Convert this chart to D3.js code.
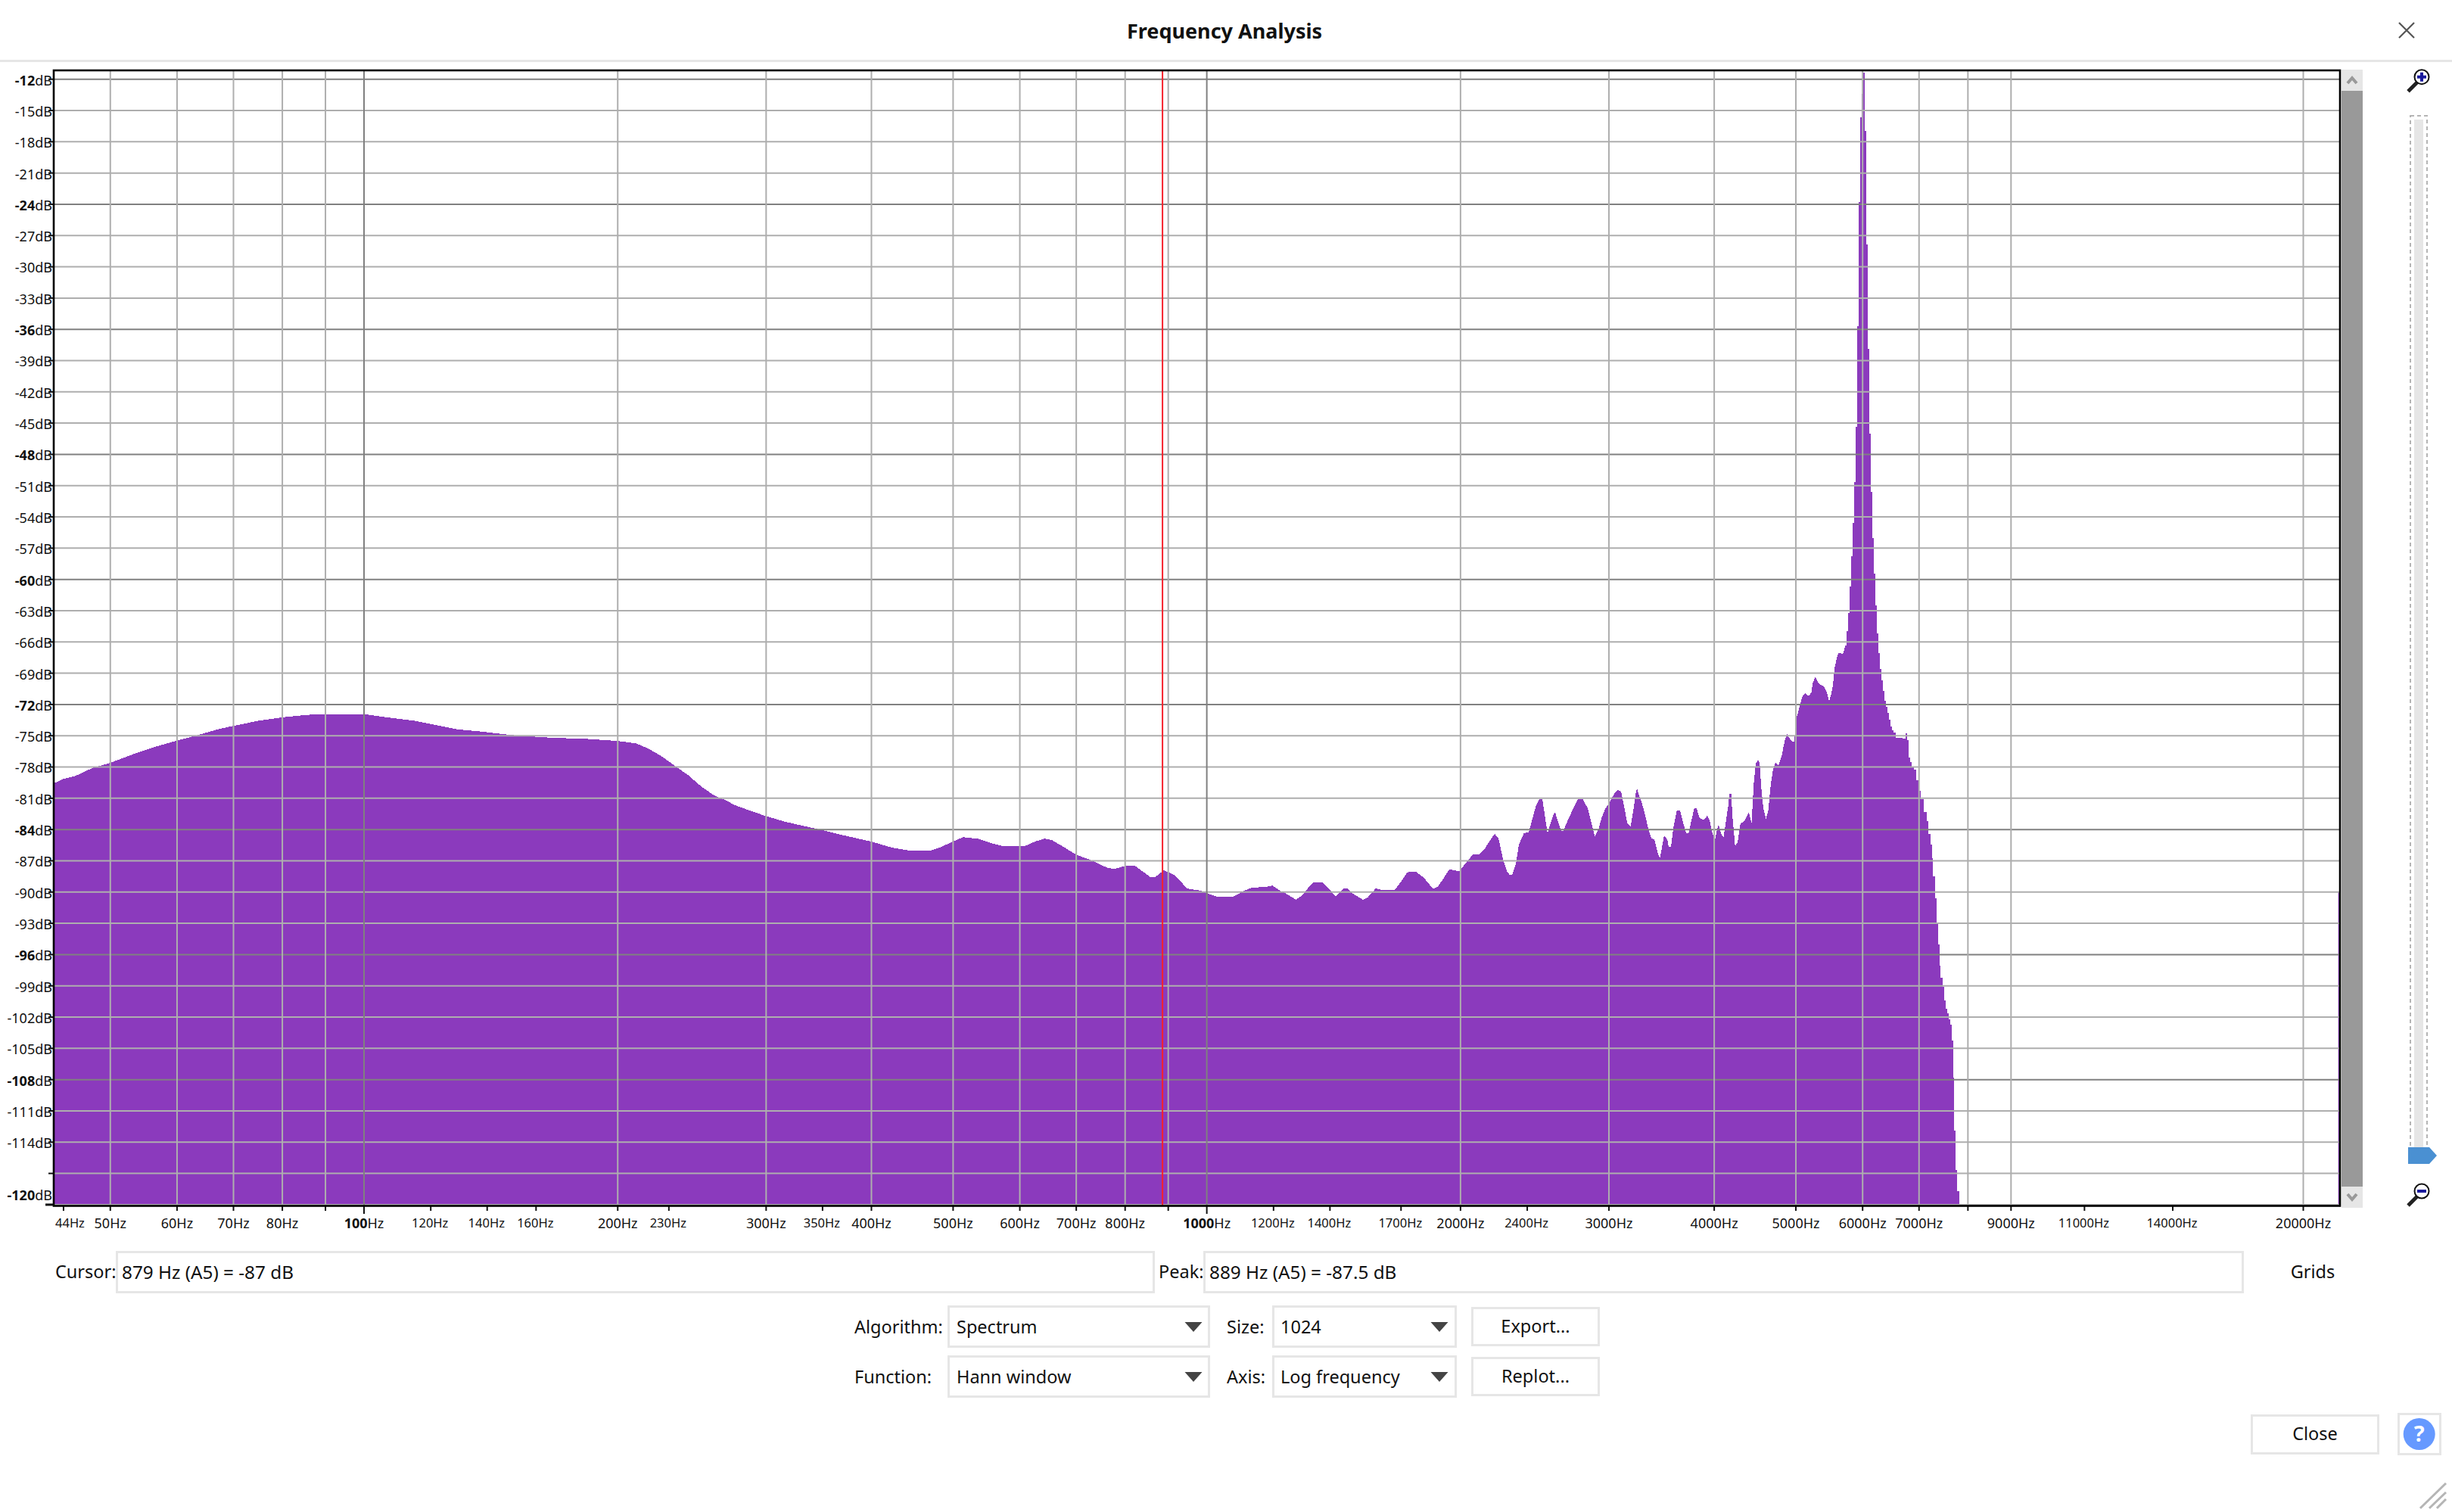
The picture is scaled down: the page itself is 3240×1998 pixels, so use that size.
<!DOCTYPE html>
<html>
<head>
<meta charset="utf-8">
<title>Frequency Analysis</title>
<script src="https://cdn.jsdelivr.net/npm/d3@7/dist/d3.min.js"></script>
<style>
  html, body { margin: 0; padding: 0; background: #fff; }
  svg { display: block; }
  text { font-family: "Noto Sans", sans-serif; fill: #111; }
</style>
</head>
<body>
<div id="chart"></div>
<script>
// Spectrum: frequency (Hz) and level (dB), same order
const spectrumHz = [
  42.5, 43.9, 45.5, 47.6, 50, 53.1, 56.3, 59.8, 63.4, 67.4,
  70, 74.9, 80, 85.4, 90, 100, 106.3, 114.9, 121.8, 129.2,
  137.2, 145.7, 152.8, 167, 184.6, 200, 210.5, 218, 225.8, 233.9,
  242.7, 251.5, 260.5, 269.3, 274.9, 286.5, 300, 317, 333.8, 351.6,
  370, 400, 423.5, 445.7, 469, 484, 500, 514, 536, 558.6,
  576, 607, 626, 642, 655, 672.5, 700, 730, 760, 776,
  800, 822, 856, 869.5, 889, 915.7, 948, 984, 1000, 1030,
  1074, 1108, 1131, 1171, 1196, 1221, 1243, 1276, 1299, 1327,
  1340, 1371, 1400, 1422, 1455, 1467, 1492, 1532, 1551, 1587,
  1614, 1671, 1701, 1728, 1738, 1769, 1808, 1856, 1880, 1904,
  1938, 1956, 1993, 2026, 2068, 2103, 2133, 2169, 2196, 2219,
  2247, 2270, 2287, 2303, 2327, 2346, 2378, 2410, 2440, 2460,
  2483, 2501, 2517, 2537, 2550, 2578, 2590, 2605, 2632, 2650,
  2672, 2723, 2757, 2791, 2831, 2861, 2887, 2918, 2943, 2970,
  3000, 3047, 3074, 3102, 3128, 3154, 3183, 3212, 3226, 3240,
  3253, 3280, 3311, 3340, 3370, 3398, 3426, 3448, 3473, 3488,
  3519, 3533, 3555, 3577, 3611, 3644, 3675, 3706, 3729, 3773,
  3789, 3813, 3839, 3887, 3924, 3952, 3976, 4009, 4025, 4048,
  4080, 4104, 4133, 4155, 4169, 4190, 4204, 4235, 4264, 4298,
  4335, 4371, 4398, 4430, 4456, 4481, 4508, 4531, 4546, 4574,
  4607, 4636, 4667, 4696, 4729, 4768, 4813, 4834, 4859, 4879,
  4903, 4937, 4978, 5005, 5033, 5057, 5092, 5128, 5181, 5216,
  5234, 5271, 5325, 5399, 5437, 5475, 5504, 5532, 5558, 5589,
  5616, 5686, 5725, 5757, 5781, 5805, 5829, 5853, 5877, 5902,
  5926, 5950, 5975, 6000, 6025, 6050, 6075, 6100, 6125, 6150,
  6176, 6201, 6227, 6253, 6279, 6305, 6331, 6358, 6384, 6410,
  6437, 6464, 6490, 6517, 6548, 6595, 6663, 6733, 6760, 6788,
  6817, 6845, 6882, 6920, 6967, 7007, 7064, 7127, 7163, 7202,
  7238, 7261, 7292, 7322, 7352, 7383, 7413, 7444, 7475, 7506,
  7537, 7568, 7600, 7631, 7663, 7694, 7722, 7754, 7781, 7850
];
const spectrumDb = [
  -79.7, -79.17, -78.84, -78.1, -77.6, -76.8, -76.1, -75.5, -74.95, -74.34,
  -74.05, -73.57, -73.23, -73, -72.92, -72.92, -73.23, -73.57, -73.98, -74.39,
  -74.58, -74.83, -75, -75.19, -75.31, -75.5, -75.74, -76.28, -77, -77.9,
  -78.81, -79.9, -80.74, -81.23, -81.63, -82.16, -82.72, -83.28, -83.69, -84.1,
  -84.54, -85.16, -85.75, -86.04, -86.04, -85.67, -85.14, -84.73, -84.9, -85.38,
  -85.62, -85.62, -85.14, -84.87, -85.02, -85.55, -86.42, -86.96, -87.63, -87.8,
  -87.49, -87.49, -88.53, -88.53, -87.92, -88.36, -89.67, -89.86, -90.1, -90.47,
  -90.47, -89.86, -89.57, -89.52, -89.38, -89.86, -90.17, -90.73, -90.3, -89.33,
  -89.04, -89.04, -89.81, -90.42, -89.64, -89.64, -90.17, -90.73, -90.54, -89.64,
  -89.81, -89.81, -88.96, -88.16, -88.02, -88.02, -88.6, -89.69, -89.47, -88.84,
  -87.87, -87.87, -88.02, -87.27, -86.42, -86.42, -85.94, -85.02, -84.41, -84.85,
  -86.91, -87.99, -88.36, -88.36, -87.27, -85.45, -84.36, -84.24, -82.67, -81.63,
  -81.05, -81.05, -82.55, -84.36, -83.76, -82.55, -82.35, -83.03, -84.12, -84.12,
  -83.39, -81.94, -81.05, -81.05, -81.94, -83.39, -84.68, -83.88, -82.79, -82.01,
  -81.53, -80.49, -80.17, -80.37, -81.82, -83.39, -83.71, -81.82, -80.61, -80.05,
  -80.61, -81.34, -82.55, -83.88, -84.85, -84.97, -86.18, -86.78, -85.45, -84.56,
  -84.97, -85.69, -85.65, -83.88, -82.18, -82.18, -83.39, -84.36, -84.36, -82.55,
  -81.94, -81.94, -82.84, -83.1, -82.67, -83.15, -84.24, -84.97, -84.24, -83.52,
  -84.48, -84.73, -83.03, -81.82, -80.61, -80.61, -82.67, -85.57, -85.21, -83.39,
  -83.27, -82.79, -82.35, -83.39, -79.64, -77.7, -77.29, -77.7, -79.76, -81.94,
  -82.96, -82.23, -79.76, -78.31, -77.58, -77.83, -76.86, -76, -75.24, -74.8,
  -75.1, -75.5, -75.6, -73.39, -72.69, -72, -71.2, -70.94, -71.2, -70.84,
  -70, -69.36, -70, -70.3, -70.75, -71.68, -71.07, -70.15, -68.5, -67.6,
  -67.05, -67.14, -66.35, -64.96, -63.2, -60.66, -57.8, -54.55, -50.66, -45.38,
  -35.66, -23.76, -15.66, -13.4, -11.35, -16.95, -27.83, -37.88, -46.03, -51.63,
  -56.03, -59.45, -62.5, -65.15, -67.05, -68.62, -69.69, -70.7, -71.63, -72.23,
  -72.79, -73.48, -74.08, -74.45, -74.68, -75.2, -75.2, -75.3, -74.8, -75.4,
  -77.1, -77.56, -78.02, -78.28, -79.26, -80.3, -81.05, -82.34, -83.2, -84.39,
  -85.43, -86.73, -88.48, -90.62, -92.9, -95, -97.05, -98.25, -99.06, -100.43,
  -101.18, -101.66, -102.25, -102.73, -104.26, -107.83, -112.86, -116.66, -118.7, -120
];

// Axis values
const dbTicks = [-12, -15, -18, -21, -24, -27, -30, -33, -36, -39, -42, -45, -48, -51, -54, -57, -60,
  -63, -66, -69, -72, -75, -78, -81, -84, -87, -90, -93, -96, -99, -102, -105, -108, -111, -114, -117, -120];
const hzTicks = [44, 50, 60, 70, 80, 90, 100, 120, 140, 160, 200, 230, 300, 350, 400, 500, 600, 700, 800, 900,
  1000, 1200, 1400, 1700, 2000, 2400, 3000, 4000, 5000, 6000, 7000, 8000, 9000, 11000, 14000, 20000];
const hzUnlabelled = [90, 900, 8000];
const hzSmallLabels = [44, 120, 140, 160, 230, 350, 1200, 1400, 1700, 2400, 11000, 14000];
const hzGridMinor = [50, 60, 70, 80, 90, 200, 300, 400, 500, 600, 700, 800, 900,
  2000, 3000, 4000, 5000, 6000, 7000, 8000, 9000, 20000];
const hzGridMajor = [100, 1000];
const dbGridMajor = [-12, -24, -36, -48, -60, -72, -84, -96, -108];
const cursorHz = 886;
const nyquistHz = 22050;
const nyquistDb = -90;
const stepFromHz = 5725; // around the peak the points are 2px apart and the reference is blocky

const purple = '#8b3abd';
const boxGrey = '#e6e6e6';
const width = 3240;
const height = 1998;
const plot = { left: 72, right: 3092, top: 94, bottom: 1593 };

const svg = d3.select('#chart').append('svg')
  .attr('width', width)
  .attr('height', height);

// fitted against the grid lines of the reference
const xScale = d3.scaleLog().domain([100, 20000]).range([481, 3043.5]);
const yScale = d3.scaleLinear().domain([-12, -120]).range([104.7, 1591.9]);

svg.append('clipPath').attr('id', 'plotClip').append('rect')
  .attr('x', plot.left).attr('y', plot.top)
  .attr('width', plot.right - plot.left).attr('height', plot.bottom - plot.top);

const plotArea = svg.append('g').attr('clip-path', 'url(#plotClip)');

const spectrum = spectrumHz.map((hz, i) => ({ hz, db: spectrumDb[i] }));
const area = d3.area()
  .x(d => xScale(d.hz))
  .y0(plot.bottom)
  .y1(d => yScale(d.db));

plotArea.append('path')
  .datum(spectrum.filter(d => d.hz <= stepFromHz))
  .attr('d', area.curve(d3.curveLinear))
  .attr('fill', purple)
  .attr('shape-rendering', 'crispEdges');
plotArea.append('path')
  .datum(spectrum.filter(d => d.hz >= stepFromHz))
  .attr('d', area.curve(d3.curveStep))
  .attr('fill', purple)
  .attr('shape-rendering', 'crispEdges');

// thin sliver at the far right of the spectrum
plotArea.append('line')
  .attr('x1', xScale(nyquistHz)).attr('x2', xScale(nyquistHz))
  .attr('y1', yScale(nyquistDb)).attr('y2', plot.bottom)
  .attr('stroke', purple).attr('stroke-width', 2);

// Grids, drawn over the spectrum
function gridX(values, color) {
  const g = plotArea.append('g')
    .attr('transform', `translate(0,${plot.bottom})`)
    .call(d3.axisBottom(xScale).offset(0).tickValues(values).tickSize(-(plot.bottom - plot.top)).tickFormat(''));
  g.select('.domain').remove();
  g.selectAll('line').attr('stroke', color).attr('stroke-width', 2);
}
function gridY(values, color) {
  const g = plotArea.append('g')
    .attr('transform', `translate(${plot.left},0)`)
    .call(d3.axisLeft(yScale).offset(0).tickValues(values).tickSize(-(plot.right - plot.left)).tickFormat(''));
  g.select('.domain').remove();
  g.selectAll('line').attr('stroke', color).attr('stroke-width', 2);
}
gridY(dbTicks.filter(d => !dbGridMajor.includes(d)), '#aeaeae');
gridY(dbGridMajor, '#808080');
gridX(hzGridMinor, '#aeaeae');
gridX(hzGridMajor, '#808080');

plotArea.append('line')
  .attr('x1', xScale(cursorHz)).attr('x2', xScale(cursorHz))
  .attr('y1', plot.top).attr('y2', plot.bottom)
  .attr('stroke', '#f5222d').attr('stroke-width', 2);

// Level axis
const yAxis = svg.append('g')
  .attr('transform', `translate(${plot.left - 2},0)`)
  .call(d3.axisLeft(yScale).offset(0).tickValues(dbTicks).tickSize(6).tickSizeOuter(0).tickFormat(''));
yAxis.select('.domain').remove();
yAxis.selectAll('.tick line')
  .attr('stroke', '#111')
  .attr('stroke-width', d => d === -120 ? 3 : 2)
  .attr('x2', d => d === -120 ? -10 : -6);
yAxis.selectAll('.tick').each(function (d) {
  if (d === -117) return; // no room for this label in the reference, only its tick
  const label = d3.select(this).select('text')
    .attr('x', -1)
    .attr('y', d === -120 ? -12 : 1.6)
    .attr('dy', '0.35em')
    .attr('text-anchor', 'end')
    .style('font-size', '18px')
    .style('font-family', '"Noto Sans", sans-serif');
  label.append('tspan').attr('font-weight', dbGridMajor.includes(d) || d === -120 ? 700 : 400).text(d);
  label.append('tspan').text('dB');
});

// Frequency axis
const xAxis = svg.append('g')
  .attr('transform', `translate(0,${plot.bottom + 1})`)
  .call(d3.axisBottom(xScale).offset(0).tickValues(hzTicks).tickSize(6).tickSizeOuter(0).tickFormat(''));
xAxis.select('.domain').remove();
xAxis.selectAll('.tick line')
  .attr('stroke', '#111')
  .attr('stroke-width', 2)
  .attr('y2', d => hzGridMajor.includes(d) ? 10 : 6);
xAxis.selectAll('.tick').each(function (d) {
  if (hzUnlabelled.includes(d)) return;
  const small = hzSmallLabels.includes(d);
  const label = d3.select(this).select('text')
    .attr('x', d === 44 ? 8.5 : (small ? -1 : 0))
    .attr('y', small ? 28 : 29)
    .attr('dy', '0')
    .attr('text-anchor', 'middle')
    .style('font-size', small ? '16.5px' : '18px')
    .style('font-family', '"Noto Sans", sans-serif');
  label.append('tspan').attr('font-weight', hzGridMajor.includes(d) ? 700 : 400).text(d);
  label.append('tspan').text('Hz');
});

// Plot frame
svg.append('rect')
  .attr('x', 71).attr('y', 93)
  .attr('width', 3021).attr('height', 1500.5)
  .attr('fill', 'none').attr('stroke', '#000').attr('stroke-width', 2.6);

// Dialog chrome
svg.append('text').attr('x', 1618).attr('y', 51)
  .attr('text-anchor', 'middle').attr('font-size', 27).attr('font-weight', 700)
  .text('Frequency Analysis');
svg.append('rect').attr('x', 0).attr('y', 79).attr('width', width).attr('height', 3).attr('fill', boxGrey);
svg.append('path').attr('d', 'M3170,30L3190,50M3190,30L3170,50')
  .attr('stroke', '#555').attr('stroke-width', 2.2).attr('fill', 'none');

// Scrollbar
svg.append('rect').attr('x', 3094).attr('y', 92).attr('width', 28).attr('height', 1504).attr('fill', boxGrey);
svg.append('rect').attr('x', 3094).attr('y', 120).attr('width', 28).attr('height', 1448).attr('fill', '#999');
svg.append('path').attr('d', 'M3102,110L3108,103L3114,110').attr('stroke', '#999').attr('stroke-width', 4).attr('fill', 'none');
svg.append('path').attr('d', 'M3102,1578L3108,1585L3114,1578').attr('stroke', '#999').attr('stroke-width', 4).attr('fill', 'none');

// Zoom slider
svg.append('rect').attr('x', 3185).attr('y', 153).attr('width', 22).attr('height', 1365)
  .attr('fill', '#fff').attr('stroke', '#b5b5b5').attr('stroke-width', 2).attr('stroke-dasharray', '5,4');
svg.append('rect').attr('x', 3190).attr('y', 158).attr('width', 12).attr('height', 1358).attr('fill', boxGrey);
svg.append('path').attr('d', 'M3182,1516H3210L3220,1527L3210,1538H3182Z').attr('fill', '#4a90d2');

function magnifier(cy, isPlus) {
  const g = svg.append('g');
  g.append('line').attr('x1', 3182).attr('y1', cy + 19).attr('x2', 3194).attr('y2', cy + 7)
    .attr('stroke', '#222').attr('stroke-width', 5);
  g.append('circle').attr('cx', 3200).attr('cy', cy).attr('r', 9.5)
    .attr('fill', '#fff').attr('stroke', '#111').attr('stroke-width', 2);
  g.append('rect').attr('x', 3194).attr('y', cy - 2).attr('width', 12).attr('height', 4).attr('fill', '#1a1a9c');
  if (isPlus) g.append('rect').attr('x', 3198).attr('y', cy - 6).attr('width', 4).attr('height', 12).attr('fill', '#1a1a9c');
}
magnifier(101.7, true);
magnifier(1574, false);

// Form controls
function box(x0, x1, y0, y1) {
  svg.append('rect').attr('x', x0 + 1.5).attr('y', y0 + 1.5)
    .attr('width', x1 - x0 - 3).attr('height', y1 - y0 - 3)
    .attr('fill', '#fff').attr('stroke', boxGrey).attr('stroke-width', 3);
}
function label(x, y, txt, anchor, size) {
  svg.append('text').attr('x', x).attr('y', y).attr('dy', '0.35em')
    .attr('text-anchor', anchor || 'start').attr('font-size', size || 23.5).text(txt);
}
function arrow(cx, cy) {
  svg.append('path').attr('d', `M${cx - 11.5},${cy - 6}H${cx + 11.5}L${cx},${cy + 7}Z`).attr('fill', '#444');
}

label(73, 1681, 'Cursor:');
box(153, 1526, 1653, 1709);
label(161, 1681, '879 Hz (A5) = -87 dB', 'start', 24.3);
label(1531, 1681, 'Peak:');
box(1590, 2965, 1653, 1709);
label(1598, 1681, '889 Hz (A5) = -87.5 dB', 'start', 24.3);
label(3056, 1681, 'Grids', 'middle');

label(1129, 1754, 'Algorithm:');
box(1252, 1599, 1725, 1781);
label(1264, 1754, 'Spectrum');
arrow(1577, 1753);
label(1621, 1754, 'Size:');
box(1681, 1925, 1725, 1781);
label(1692, 1754, '1024');
arrow(1902, 1753);
box(1944, 2114, 1727, 1779);
label(2029, 1753, 'Export...', 'middle');

label(1129, 1820, 'Function:');
box(1252, 1599, 1791, 1847);
label(1264, 1820, 'Hann window');
arrow(1577, 1819);
label(1621, 1820, 'Axis:');
box(1681, 1925, 1791, 1847);
label(1692, 1820, 'Log frequency');
arrow(1902, 1819);
box(1944, 2114, 1793, 1845);
label(2029, 1819, 'Replot...', 'middle');

box(2974, 3144, 1869, 1922);
label(3059, 1895, 'Close', 'middle');
box(3168, 3226, 1867, 1923);
svg.append('circle').attr('cx', 3196.7).attr('cy', 1895).attr('r', 21).attr('fill', '#6699ff');
svg.append('text').attr('x', 3196.7).attr('y', 1895).attr('dy', '0.36em')
  .attr('text-anchor', 'middle').attr('font-size', 29).attr('font-weight', 700)
  .style('fill', '#fff').text('?');

svg.append('path')
  .attr('d', 'M3198,1993L3232,1960M3210,1993L3232,1972M3220,1993L3232,1981')
  .attr('stroke', '#b5b5b5').attr('stroke-width', 3).attr('fill', 'none');
</script>
</body>
</html>
